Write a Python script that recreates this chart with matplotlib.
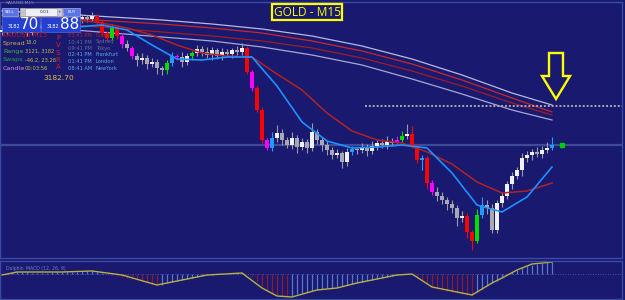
import matplotlib
matplotlib.use('Agg')
import matplotlib.pyplot as plt
from matplotlib.patches import Rectangle, Polygon
import numpy as np

BG = '#191970'

# ---------------- data (XAUUSD M15) ----------------
opens = [3194.0, 3194.2, 3194.4, 3194.1, 3194.5, 3194.3, 3193.9, 3194.2, 3194.6, 3194.4,
         3194.8, 3194.6, 3195.0, 3194.8, 3195.2, 3195.0, 3195.3, 3195.5, 3195.3, 3195.6,
         3195.0, 3193.9, 3193.4, 3194.4, 3193.6, 3192.8, 3192.4, 3191.6, 3191.2, 3191.4,
         3190.8, 3191.0, 3190.4, 3190.2, 3190.9, 3191.6, 3191.5, 3191.0, 3191.6, 3191.9,
         3192.3, 3192.0, 3191.7, 3192.2, 3191.6, 3192.0, 3191.8, 3192.2, 3192.0, 3192.4,
         3190.0, 3188.4, 3186.2, 3183.2, 3182.4, 3183.4, 3183.9, 3183.2, 3182.7, 3183.4,
         3182.5, 3183.0, 3182.4, 3184.0, 3183.2, 3182.7, 3182.2, 3181.7, 3181.9, 3181.0,
         3182.0, 3182.3, 3182.2, 3182.5, 3182.1, 3182.6, 3182.9, 3182.7, 3183.1, 3182.9,
         3183.2, 3183.6, 3183.8, 3182.6, 3181.2, 3181.4, 3178.9, 3178.0, 3177.6, 3177.2,
         3176.8, 3176.4, 3175.4, 3175.6, 3174.0, 3173.1, 3175.7, 3176.7, 3176.4, 3174.2,
         3176.9, 3177.6, 3178.8, 3179.6, 3180.2, 3181.4, 3181.7, 3182.0, 3181.8, 3182.2,
         3182.4]
closes = [3194.2, 3194.4, 3194.1, 3194.5, 3194.3, 3193.9, 3194.2, 3194.6, 3194.4, 3194.8,
          3194.6, 3195.0, 3194.8, 3195.2, 3195.0, 3195.3, 3195.5, 3195.3, 3195.6, 3195.0,
          3193.9, 3193.4, 3194.4, 3193.6, 3192.8, 3192.4, 3191.6, 3191.2, 3191.4, 3190.8,
          3191.0, 3190.4, 3190.2, 3190.9, 3191.6, 3191.5, 3191.0, 3191.6, 3191.9, 3192.3,
          3192.0, 3191.7, 3192.2, 3191.6, 3192.0, 3191.8, 3192.2, 3192.0, 3192.4, 3190.0,
          3188.4, 3186.2, 3183.2, 3182.4, 3183.4, 3183.9, 3183.2, 3182.7, 3183.4, 3182.5,
          3183.0, 3182.4, 3184.0, 3183.2, 3182.7, 3182.2, 3181.7, 3181.9, 3181.0, 3182.0,
          3182.3, 3182.2, 3182.5, 3182.1, 3182.6, 3182.9, 3182.7, 3183.1, 3182.9, 3183.2,
          3183.6, 3183.8, 3182.6, 3181.2, 3181.4, 3178.9, 3178.0, 3177.6, 3177.2, 3176.8,
          3176.4, 3175.4, 3175.6, 3174.0, 3173.1, 3175.7, 3176.7, 3176.4, 3174.2, 3176.9,
          3177.6, 3178.8, 3179.6, 3180.2, 3181.4, 3181.7, 3182.0, 3181.8, 3182.2, 3182.4,
          3182.7]
wick_up = [0.3, 0.2, 0.4, 0.3, 0.2, 0.3, 0.4, 0.3, 0.2, 0.3,
           0.3, 0.2, 0.4, 0.3, 0.3, 0.4, 0.3, 0.2, 0.4, 0.2,
           0.3, 0.2, 0.4, 0.2, 0.3, 0.4, 0.2, 0.3, 0.5, 0.3,
           0.4, 0.3, 0.2, 0.3, 0.4, 0.2, 0.5, 0.3, 0.2, 0.4,
           0.3, 0.5, 0.3, 0.2, 0.4, 0.3, 0.2, 0.4, 0.5, 0.2,
           0.2, 0.2, 0.3, 0.2, 0.6, 0.8, 0.4, 0.3, 0.6, 0.3,
           0.4, 0.3, 0.9, 0.3, 0.3, 0.4, 0.3, 0.4, 0.2, 0.4,
           0.3, 0.2, 0.4, 0.3, 0.5, 0.3, 0.4, 0.5, 0.3, 0.4,
           0.5, 1.0, 0.8, 0.2, 0.3, 0.2, 0.3, 0.5, 0.4, 0.3,
           0.4, 0.3, 0.5, 0.3, 0.2, 0.6, 0.8, 0.5, 0.4, 0.3,
           0.4, 0.3, 0.4, 0.3, 0.5, 0.4, 0.3, 0.5, 0.4, 0.6,
           0.8]
wick_dn = [0.3, 0.4, 0.3, 0.2, 0.4, 0.3, 0.2, 0.4, 0.3, 0.2,
           0.3, 0.4, 0.2, 0.3, 0.3, 0.2, 0.4, 0.3, 0.2, 0.3,
           0.2, 0.3, 0.2, 0.3, 0.4, 0.3, 0.3, 0.6, 0.4, 0.5,
           0.3, 0.6, 0.5, 0.4, 0.3, 0.3, 0.5, 0.3, 0.4, 0.3,
           0.4, 0.3, 0.5, 0.3, 0.4, 0.3, 0.4, 0.3, 0.3, 0.2,
           0.3, 0.2, 0.3, 0.2, 0.3, 0.4, 0.5, 0.3, 0.4, 0.6,
           0.3, 0.5, 0.3, 0.4, 0.6, 0.5, 0.4, 0.3, 0.6, 0.4,
           0.3, 0.4, 0.3, 0.5, 0.3, 0.4, 0.3, 0.4, 0.3, 0.2,
           0.2, 0.3, 0.2, 0.3, 1.0, 0.6, 0.3, 0.5, 0.4, 0.6,
           0.5, 0.8, 0.4, 0.6, 0.9, 0.2, 0.3, 0.6, 0.3, 0.3,
           0.4, 0.3, 0.5, 0.3, 0.6, 0.4, 0.5, 0.3, 0.4, 0.3,
           0.2]
# candle colour signals (r=strong bear, m=bear, G=strong bull, c=bull)
candle_signal = {19: 'r', 20: 'r', 21: 'r', 22: 'G', 23: 'r', 24: 'm', 26: 'm',
                 33: 'G', 34: 'c', 35: 'm', 38: 'G', 49: 'r', 50: 'm', 51: 'r',
                 52: 'r', 53: 'm', 54: 'c', 70: 'c', 79: 'm', 80: 'G', 82: 'r',
                 83: 'r', 84: 'c', 85: 'r', 86: 'm', 93: 'r', 94: 'r', 95: 'G',
                 96: 'c', 110: 'c'}

ma_idx = list(range(0, 111, 5))
ma_fast = [3194.4, 3194.6, 3194.8, 3194.5, 3194.7, 3194.2, 3192.7, 3191.3, 3191.2, 3191.5,
           3191.5, 3188.6, 3185.0, 3183.1, 3182.4, 3182.5, 3182.7, 3182.4, 3179.9, 3176.7,
           3176.0, 3177.5, 3180.5]
ma_slow = [3194.6, 3194.8, 3195.0, 3195.2, 3194.9, 3194.4, 3193.7, 3192.7, 3191.9, 3191.6,
           3191.5, 3189.8, 3188.2, 3185.9, 3184.1, 3183.2, 3182.9, 3182.0, 3180.8, 3179.0,
           3177.9, 3178.1, 3178.9]

band_idx = [0, 12, 22, 32, 42, 52, 62, 72, 82, 92, 102, 110]
band_upper_w = [3196.1, 3195.8, 3195.5, 3195.2, 3194.8, 3194.3, 3193.6, 3192.6, 3191.3, 3189.7, 3187.9, 3186.7]
band_upper_r = [3195.7, 3195.4, 3195.1, 3194.8, 3194.4, 3193.9, 3193.1, 3192.1, 3190.8, 3189.2, 3187.4, 3186.0]
band_lower_r = [3195.1, 3194.8, 3194.4, 3194.0, 3193.6, 3193.1, 3192.4, 3191.4, 3190.1, 3188.6, 3186.9, 3185.7]
band_lower_w = [3194.6, 3194.3, 3193.9, 3193.5, 3193.1, 3192.5, 3191.7, 3190.7, 3189.3, 3187.8, 3186.2, 3185.2]

macd_hist = [0.0, 0.1, 0.2, 0.2, 0.2, 0.2, 0.1, 0.1, 0.1, 0.1,
             0.2, 0.2, 0.2, 0.2, 0.2, 0.2, 0.3, 0.3, 0.3, 0.2,
             0.1, 0.0, -0.1, -0.2, -0.3, -0.4, -0.5, -0.6, -0.7, -0.8,
             -1.0, -1.1, -1.1, -0.9, -0.8, -0.7, -0.6, -0.5, -0.4, -0.3,
             -0.2, -0.1, -0.1, 0.0, 0.0, 0.0, 0.0, 0.1, 0.1, 0.0,
             -0.3, -0.7, -1.2, -1.6, -1.9, -2.1, -2.2, -2.3, -2.2, -2.0,
             -1.9, -1.8, -1.7, -1.6, -1.5, -1.4, -1.4, -1.3, -1.2, -1.1,
             -1.0, -0.9, -0.8, -0.7, -0.6, -0.5, -0.4, -0.3, -0.2, -0.1,
             0.0, 0.0, -0.1, -0.3, -0.6, -0.9, -1.2, -1.4, -1.6, -1.7,
             -1.8, -1.9, -2.0, -2.1, -2.2, -1.8, -1.5, -1.1, -0.9, -0.7,
             -0.4, -0.1, 0.2, 0.4, 0.6, 0.8, 0.9, 1.0, 1.1, 1.2,
             1.2]
sig_idx = [0, 3, 12, 18, 24, 31, 33, 36, 41, 48, 52, 55, 58, 63, 67, 71, 79, 82, 86, 94, 98, 100, 103, 106, 110]
sig_vals = [-0.1, 0.2, 0.2, 0.3, -0.1, -1.1, -0.9, -0.6, -0.1, 0.1, -1.4, -2.2, -2.3, -1.6, -1.4,
            -0.9, -0.1, 0.0, -1.3, -2.1, -0.9, -0.4, 0.4, 1.0, 1.2]

last_price = 3182.70
level_price = 3186.6
level_start = 72.6
next_bar = 112

# ---------------- figure ----------------
fig = plt.figure(figsize=(6.25, 3), dpi=100, facecolor=BG)
ax = fig.add_axes([0, 42 / 300, 622 / 625, 256 / 300])
ax.set_facecolor(BG)
n = len(closes)
x = np.arange(n)
ax.set_xlim(-0.4, 124)
ax.set_ylim(3171.4, 3197.0)
ax.set_xticks([]); ax.set_yticks([])
for s in ax.spines.values():
    s.set_color('#3a4aa0'); s.set_linewidth(1)

# bands
ax.plot(band_idx, band_upper_w, color='#b8b8e0', lw=0.9, zorder=2)
ax.plot(band_idx, band_upper_r, color='#c82828', lw=0.9, zorder=2)
ax.plot(band_idx, band_lower_r, color='#a01c24', lw=0.9, zorder=2)
ax.plot(band_idx, band_lower_w, color='#a8a8d4', lw=0.9, zorder=2)

# price line
ax.axhline(last_price, color='#3e4c98', lw=1.6, zorder=1)
# level dotted
ax.plot([level_start, 124], [level_price, level_price], color='#a8a8a8', lw=1.4,
        linestyle=(0, (1, 1)), zorder=2)

cmap = {'r': '#ff0000', 'm': '#ff00ff', 'G': '#00dd00', 'c': '#1e9bff'}
body_col, wick_col, lo_b, hi_b, hi_w, lo_w = [], [], [], [], [], []
for i in range(n):
    o, c = opens[i], closes[i]
    top, bot = max(o, c), min(o, c)
    if i in candle_signal:
        col = cmap[candle_signal[i]]
        wc = col
    else:
        col = '#f0f0f8' if c > o else '#a8a8b4'
        wc = '#9a9aa8'
    body_col.append(col); wick_col.append(wc)
    lo_b.append(bot); hi_b.append(max(top - bot, 0.12))
    hi_w.append(top + wick_up[i]); lo_w.append(bot - wick_dn[i])
ax.vlines(x, lo_w, hi_w, colors=wick_col, lw=0.8, zorder=3)
ax.bar(x, hi_b, bottom=lo_b, width=0.62, color=body_col, linewidth=0, zorder=4)

ax.plot(ma_idx, ma_slow, color='#b22222', lw=1.1, zorder=5)
ax.plot(ma_idx, ma_fast, color='#1e90ff', lw=1.2, zorder=5)
ax.plot([next_bar], [last_price], marker='s', ms=2.5, color='#00cc00', zorder=6)

# ---------------- MACD panel ----------------
ax2 = fig.add_axes([0, 1 / 300, 622 / 625, 38 / 300])
ax2.set_facecolor(BG)
ax2.set_xlim(-0.4, 124)
ax2.set_ylim(-2.5, 1.3)
ax2.set_xticks([]); ax2.set_yticks([])
for s in ax2.spines.values():
    s.set_color('#3a4aa0'); s.set_linewidth(1)
ax2.axhline(0, color='#5a66a8', lw=0.6, linestyle=(0, (1, 2)))
hcol = []
for i, h in enumerate(macd_hist):
    prev = macd_hist[i - 1] if i > 0 else h
    hcol.append('#8c1a30' if (h < 0 and h < prev) else '#5a78c8')
ax2.vlines(x, 0, macd_hist, colors=hcol, lw=0.9)
ax2.plot(sig_idx, sig_vals, color='#b8b040', lw=1.0)
ax2.text(0.01, 0.88, 'Dolphin_MACD (12, 26, 9)', transform=ax2.transAxes, fontsize=3.3,
         color='#6a82c8', va='top')

# ---------------- overlay (pixel coords) ----------------
ov = fig.add_axes([0, 0, 1, 1])
ov.set_xlim(0, 625); ov.set_ylim(300, 0)
ov.axis('off'); ov.patch.set_alpha(0)

ov.text(6, 3.2, 'XAUUSD,M15', fontsize=3.2, color='#8a8ab8', va='center')
# trade widget
ov.add_patch(Rectangle((2, 8), 16, 8, fc='#5a74e6', ec='#c0c8ff', lw=0.4))
ov.text(10, 12, 'SELL', fontsize=3, color='white', ha='center', va='center')
ov.add_patch(Rectangle((20, 8), 42, 8, fc='#eeeef4', ec='#a0a0b0', lw=0.4))
ov.add_patch(Rectangle((20, 8), 5, 8, fc='#c8c8d0', ec='#a0a0b0', lw=0.4))
ov.add_patch(Rectangle((57, 8), 5, 8, fc='#c8c8d0', ec='#a0a0b0', lw=0.4))
ov.text(22.5, 12, '-', fontsize=3, color='#303040', ha='center', va='center')
ov.text(59.5, 12, '+', fontsize=3, color='#303040', ha='center', va='center')
ov.text(45, 12, '0.01', fontsize=3.2, color='#303040', ha='center', va='center')
ov.add_patch(Rectangle((63, 8), 17, 8, fc='#5a74e6', ec='#c0c8ff', lw=0.4))
ov.text(71.5, 12, 'BUY', fontsize=3, color='white', ha='center', va='center')
ov.add_patch(Rectangle((2, 17), 38, 15, fc='#2440d0', ec='#6078f0', lw=0.4))
ov.add_patch(Rectangle((41, 17), 39, 15, fc='#2440d0', ec='#6078f0', lw=0.4))
ov.text(14, 26, '3182', fontsize=3.6, color='white', ha='center', va='center')
ov.text(29, 24.5, '70', fontsize=11, color='white', ha='center', va='center')
ov.text(53, 26, '3182', fontsize=3.6, color='white', ha='center', va='center')
ov.text(70, 24.5, '88', fontsize=11, color='white', ha='center', va='center')

fs = 4.6
ov.text(2, 35, 'XAUUSD M15', fontsize=fs + 0.3, color='#c01818', va='center')
labels = ['Spread', 'Range', 'Swaps', 'Candle']
lab_cols = ['#d0b040', '#40b840', '#30a030', '#d890d8']
vals = ['18.0', '3121, 3182', '-46.2, 23.28', '00:03:56']
for k, (lb, lc, v) in enumerate(zip(labels, lab_cols, vals)):
    yy = 43 + k * 8.5
    ov.text(3, yy, lb, fontsize=fs, color=lc, va='center')
    ov.text(25, yy, v, fontsize=fs - 0.9, color='#b8c040', va='center')
for k, ch in enumerate('PVSRA'):
    ov.text(58, 38 + k * 7.3, ch, fontsize=fs + 0.4, color='#d02020', va='center', ha='center')
times = ['03:41 PM', '10:41 PM', '09:41 PM', '02:41 PM', '01:41 PM', '08:41 AM']
cities = ['Dubai', 'Sydney', 'Tokyo', 'Frankfurt', 'London', 'NewYork']
tcols = ['#c02020', '#6a6a9c', '#6a6a9c', '#5aa8ec', '#5aa8ec', '#5aa8ec']
for k in range(6):
    yy = 35.5 + k * 6.5
    ov.text(68, yy, times[k], fontsize=fs - 0.9, color=tcols[k], va='center')
    ov.text(96, yy, cities[k], fontsize=fs - 0.9, color=tcols[k], va='center')
ov.text(43, 78, '3182.70', fontsize=5.4, color='#e0c040', va='center')

# title box
ov.add_patch(Rectangle((272, 3.5), 70, 16.5, fc='none', ec='#ffff00', lw=1.6))
ov.text(307, 12, 'GOLD - M15', fontsize=8.6, color='#ffff00', ha='center', va='center',
        family='Open Sans')

# arrow
ov.add_patch(Polygon([(549, 53), (563, 53), (563, 76), (570, 76), (556, 99), (542, 76), (549, 76)],
                     closed=True, fc='none', ec='#ffff00', lw=1.7, joinstyle='miter'))

fig.savefig('out.png', dpi=100, facecolor=BG)
